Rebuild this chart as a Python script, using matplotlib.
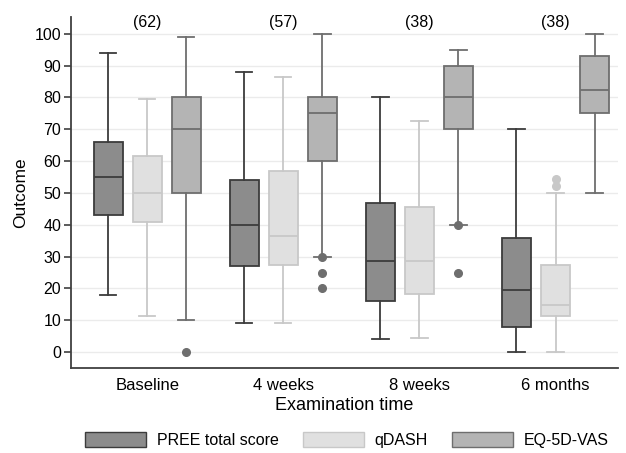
import matplotlib.pyplot as plt
from matplotlib.patches import Patch

plt.rcParams['font.family'] = ['Liberation Sans', 'DejaVu Sans']

# Data
groups = ['Baseline', '4 weeks', '8 weeks', '6 months']
counts = ['(62)', '(57)', '(38)', '(38)']
series = ['PREE total score', 'qDASH', 'EQ-5D-VAS']

# per group: (whislo, q1, med, q3, whishi)
pree = [(18, 43, 55, 66, 94), (9, 27, 40, 54, 88), (4, 16, 28.5, 47, 80), (0, 8, 19.5, 36, 70)]
qdash = [(11.4, 41, 50, 61.5, 79.5), (9.1, 27.3, 36.4, 56.8, 86.4),
         (4.5, 18.2, 28.5, 45.5, 72.7), (0, 11.4, 14.8, 27.3, 50)]
eq5d = [(10, 50, 70, 80, 99), (30, 60, 75, 80, 100), (40, 70, 80, 90, 95), (50, 75, 82.5, 93, 100)]

pree_out = [[], [], [], []]
qdash_out = [[], [], [], [52.3, 54.5]]
eq5d_out = [[0], [30, 25, 20], [40, 25], []]

fills = ['#8c8c8c', '#e0e0e0', '#b4b4b4']
edges = ['#3c3c3c', '#c8c8c8', '#6e6e6e']

fig = plt.figure(figsize=(6.26, 4.53), dpi=100)
ax = fig.add_axes([0.1134, 0.1876, 0.874, 0.775])

offsets = [-0.287, 0, 0.287]
for s, (vals, outs) in enumerate([(pree, pree_out), (qdash, qdash_out), (eq5d, eq5d_out)]):
    stats = []
    for v, o in zip(vals, outs):
        stats.append(dict(whislo=v[0], q1=v[1], med=v[2], q3=v[3], whishi=v[4], fliers=o))
    pos = [i + 1 + offsets[s] for i in range(len(groups))]
    c = edges[s]
    ax.bxp(stats, positions=pos, widths=0.213, patch_artist=True, showfliers=True,
           boxprops=dict(facecolor=fills[s], edgecolor=c, linewidth=1.3),
           medianprops=dict(color=c, linewidth=1.3),
           whiskerprops=dict(color=c, linewidth=1.3),
           capprops=dict(color=c, linewidth=1.3),
           capwidths=0.12,
           flierprops=dict(marker='o', markerfacecolor=c, markeredgecolor=c, markersize=5.5),
           zorder=3)

for i, n in enumerate(counts):
    ax.text(i + 1, 103.6, n, ha='center', va='center', fontsize=11.5)

ax.set_xlim(0.44, 4.46)
ax.set_ylim(-5, 105.3)
ax.set_xticks(range(1, len(groups) + 1))
ax.set_xticklabels(groups)
ax.set_yticks(range(0, 101, 10))
ax.yaxis.grid(True, color='#ebebeb', linewidth=1, zorder=0)
ax.set_axisbelow(True)
ax.tick_params(axis='x', length=0, labelsize=12, pad=7)
ax.tick_params(axis='y', length=5, width=1.2, color='#404040', labelsize=11.5, pad=2)
for sp in ['top', 'right']:
    ax.spines[sp].set_visible(False)
for sp in ['left', 'bottom']:
    ax.spines[sp].set_color('#404040')
    ax.spines[sp].set_linewidth(1.3)

ax.set_ylabel('Outcome', fontsize=12.5, labelpad=5)
ax.set_xlabel('Examination time', fontsize=13, labelpad=3)

handles = [Patch(facecolor=fills[i], edgecolor=edges[i], linewidth=1.0) for i in range(3)]
fig.legend(handles, series, loc='center', bbox_to_anchor=(347 / 626, 1 - 440 / 453), ncol=3,
           frameon=False, fontsize=11.5, handlelength=3.8, handleheight=1.05, columnspacing=1.5,
           handletextpad=0.7)

fig.savefig('out.png', dpi=100)
